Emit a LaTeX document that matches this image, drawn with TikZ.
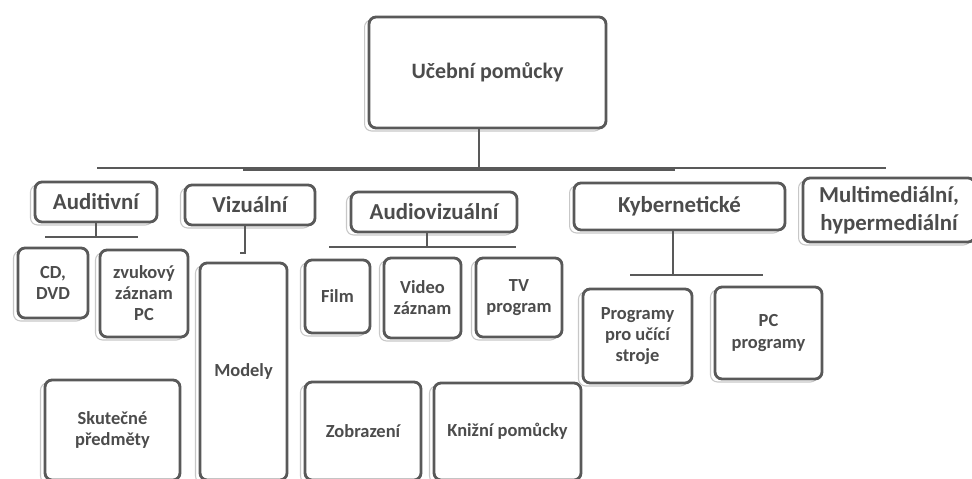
\documentclass[tikz,border=0pt]{standalone}
\usepackage{fontspec}
\setmainfont{Carlito}
\usetikzlibrary{shadows}
\tikzset{
  box/.style={draw=black!65, line width=1.6pt, fill=white, rounded corners=4pt, inner sep=2pt, align=center, text=black!70,
    copy shadow={shadow xshift=-0.09cm, shadow yshift=-0.06cm, draw=black!22, line width=0.6pt, fill=white}},
  headbox/.style={box, font=\fontsize{13}{16}\selectfont\bfseries},
  leafbox/.style={box, font=\fontsize{10.5}{12}\selectfont\bfseries},
  link/.style={draw=black!65, line width=1.6pt}
}
\begin{document}
\begin{tikzpicture}[x=0.02cm,y=-0.02cm]
\useasboundingbox (0,0) rectangle (972,479);
\node[headbox, font=\fontsize{12.5}{15}\selectfont\bfseries, minimum width=4.74cm, minimum height=2.22cm] (top) at (487.5,72.5) {Učební pomůcky};
% druhá úroveň
\node[headbox, minimum width=2.44cm, minimum height=0.8cm] (auditivni) at (96,202) {Auditivní};
\node[headbox, minimum width=2.6cm, minimum height=0.8cm] (vizualni) at (250,205) {Vizuální};
\node[headbox, minimum width=3.32cm, minimum height=0.8cm] (audiovizualni) at (434,212) {Audiovizuální};
\node[headbox, minimum width=4.22cm, minimum height=0.94cm] (kyberneticke) at (679.5,206.5) {Kybernetické};
\node[headbox, minimum width=3.44cm, minimum height=1.28cm] (multimedialni) at (889,210) {Multimediální,\\hypermediální};
% třetí úroveň
\node[leafbox, minimum width=1.4cm, minimum height=1.4cm] (cd) at (53,283) {CD,\\DVD};
\node[leafbox, minimum width=1.76cm, minimum height=1.74cm] (zvukovy) at (144,293.5) {zvukový\\záznam\\PC};
\node[leafbox, minimum width=2.7cm, minimum height=2.0cm] (skutecne) at (112.5,430) {Skutečné\\předměty};
\node[leafbox, minimum width=1.74cm, minimum height=4.34cm] (modely) at (243.5,371.5) {Modely};
\node[leafbox, minimum width=1.3cm, minimum height=1.46cm] (film) at (337.5,296.5) {Film};
\node[leafbox, minimum width=1.54cm, minimum height=1.6cm] (video) at (422.5,298) {Video\\záznam};
\node[leafbox, minimum width=1.72cm, minimum height=1.58cm] (tv) at (519,297.5) {TV\\program};
\node[leafbox, minimum width=2.32cm, minimum height=1.96cm] (zobrazeni) at (363,431) {Zobrazení};
\node[leafbox, minimum width=2.94cm, minimum height=1.94cm] (knizni) at (507.5,431.5) {Knižní pomůcky};
\node[leafbox, minimum width=2.18cm, minimum height=1.88cm] (programy) at (637.5,336) {Programy\\pro učící\\stroje};
\node[leafbox, minimum width=2.14cm, minimum height=1.84cm] (pcprog) at (768.5,333) {PC\\programy};
% spojnice
\coordinate (barL) at (97,168);
\coordinate (barR) at (886,168);
\coordinate (barmidL) at (243,169.5);
\coordinate (barmidR) at (675,169.5);
\coordinate (topdown) at (479,168);
\draw[link] (barL) -- (barR);
\draw[link] (barmidL) -- (barmidR);
\draw[link] (top.south -| topdown) -- (topdown);
\coordinate (audL) at (45,237);
\coordinate (audR) at (138,237);
\draw[link] (audL) -- (audR);
\draw[link] (auditivni.south) -- (auditivni.south |- audL);
\coordinate (vizdown) at (245,253);
\draw[link] (vizualni.south -| vizdown) -- (vizdown) -- ++(-5,0);
\coordinate (avL) at (329,247);
\coordinate (avR) at (516,247);
\coordinate (avdown) at (427,247);
\draw[link] (avL) -- (avR);
\draw[link] (audiovizualni.south -| avdown) -- (avdown);
\coordinate (kyL) at (630,275);
\coordinate (kyR) at (763,275);
\coordinate (kydown) at (673,275);
\draw[link] (kyL) -- (kyR);
\draw[link] (kyberneticke.south -| kydown) -- (kydown);
\end{tikzpicture}
\end{document}
